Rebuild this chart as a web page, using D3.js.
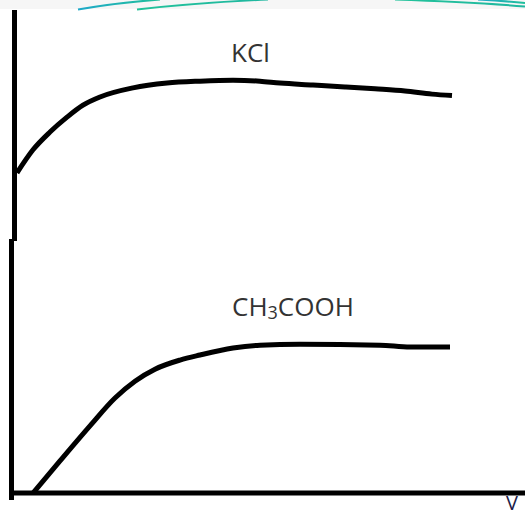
<!DOCTYPE html>
<html>
<head>
<meta charset="utf-8">
<script src="https://cdn.jsdelivr.net/npm/d3@7"></script>
<style>
  html, body { margin: 0; padding: 0; background: #ffffff; }
  svg { display: block; }
</style>
</head>
<body>
<svg id="chart" width="525" height="516"></svg>
<script>
// ---- data (arbitrary units: x = volume, y = conductance) ----
const kclX = [1, 4.2, 7.6, 11, 14.2, 17.6, 24.2, 31, 37.6, 44.2, 49.6, 53.6, 60.2, 66.6, 72.6, 78.6, 84, 88];
const kclY = [66.7, 71.5, 75.2, 78.3, 80.8, 82.5, 84.4, 85.4, 85.8, 86.0, 85.8, 85.4, 85.0, 84.6, 84.2, 83.75, 83.1, 82.8];
const aceticX = [4.2, 9.6, 15.6, 20.6, 24.6, 28.6, 33.6, 37.6, 44.2, 49.6, 57.6, 73.6, 79.6, 87.6];
const aceticY = [0, 6.7, 14.0, 19.8, 23.3, 25.8, 27.7, 28.75, 30.2, 30.8, 31.0, 30.8, 30.4, 30.4];
const seriesLabels = ["KCl", "CH", "3", "COOH"];
const axisLabelX = "V";

const svg = d3.select("#chart");
const W = 525, H = 516;

const x = d3.scaleLinear().domain([0, 100]).range([12, 512]);
const y = d3.scaleLinear().domain([0, 100]).range([493, 13]);

// decorative slide band at the top
svg.append("rect").attr("x", 0).attr("y", 0).attr("width", W).attr("height", 9).attr("fill", "#f6f6f6");
const defs = svg.append("defs");
const g1 = defs.append("linearGradient").attr("id", "gA").attr("x1", "0").attr("x2", "1");
g1.append("stop").attr("offset", "0").attr("stop-color", "#1fa9c9");
g1.append("stop").attr("offset", "1").attr("stop-color", "#1fbf9a");
const g2 = defs.append("linearGradient").attr("id", "gB").attr("x1", "0").attr("x2", "1");
g2.append("stop").attr("offset", "0").attr("stop-color", "#22c29a");
g2.append("stop").attr("offset", "1").attr("stop-color", "#1fb7a0");
const deco = svg.append("g").attr("fill", "none");
deco.append("path").attr("d", "M78,9.5 Q115,3 160,-0.5").attr("stroke", "url(#gA)").attr("stroke-width", 2);
deco.append("path").attr("d", "M137,9.5 Q195,3 268,-0.5").attr("stroke", "url(#gB)").attr("stroke-width", 2);
deco.append("path").attr("d", "M395,-0.5 Q470,2 525,6.5").attr("stroke", "url(#gB)").attr("stroke-width", 2);
deco.append("path").attr("d", "M478,-0.5 Q505,1 525,3").attr("stroke", "url(#gA)").attr("stroke-width", 2);

// axes (hand drawn look: y axis in two slightly offset strokes)
const axes = svg.append("g").attr("stroke", "#000").attr("stroke-width", 5).attr("fill", "none");
axes.append("line").attr("x1", x(0) + 2.5).attr("x2", x(0) + 2.5).attr("y1", 10).attr("y2", 241);
axes.append("line").attr("x1", x(0) - 0.5).attr("x2", x(0) - 0.5).attr("y1", 239).attr("y2", 500);
axes.append("line").attr("x1", x(0) - 2).attr("x2", W).attr("y1", y(0)).attr("y2", y(0));

// curves
const line = d3.line().x(d => x(d[0])).y(d => y(d[1])).curve(d3.curveMonotoneX);
const curves = svg.append("g").attr("fill", "none").attr("stroke", "#000").attr("stroke-width", 5)
  .attr("stroke-linejoin", "round").attr("stroke-linecap", "butt");
curves.append("path").attr("d", line(kclX.map((v, i) => [v, kclY[i]])));
curves.append("path").attr("d", line(aceticX.map((v, i) => [v, aceticY[i]])));

// labels
const font = "'Open Sans', 'Liberation Sans', sans-serif";
svg.append("text").attr("x", 231).attr("y", 62).attr("font-family", font).attr("font-size", 26)
  .attr("fill", "#333").text(seriesLabels[0]);
const t2 = svg.append("text").attr("x", 232).attr("y", 316).attr("font-family", font).attr("font-size", 26)
  .attr("fill", "#333");
t2.append("tspan").text(seriesLabels[1]);
t2.append("tspan").attr("font-size", 18).attr("dy", 3).text(seriesLabels[2]);
t2.append("tspan").attr("dy", -3).text(seriesLabels[3]);
svg.append("text").attr("x", 506).attr("y", 510).attr("font-family", font).attr("font-size", 20)
  .attr("fill", "#1c1c48").text(axisLabelX);
</script>
</body>
</html>
